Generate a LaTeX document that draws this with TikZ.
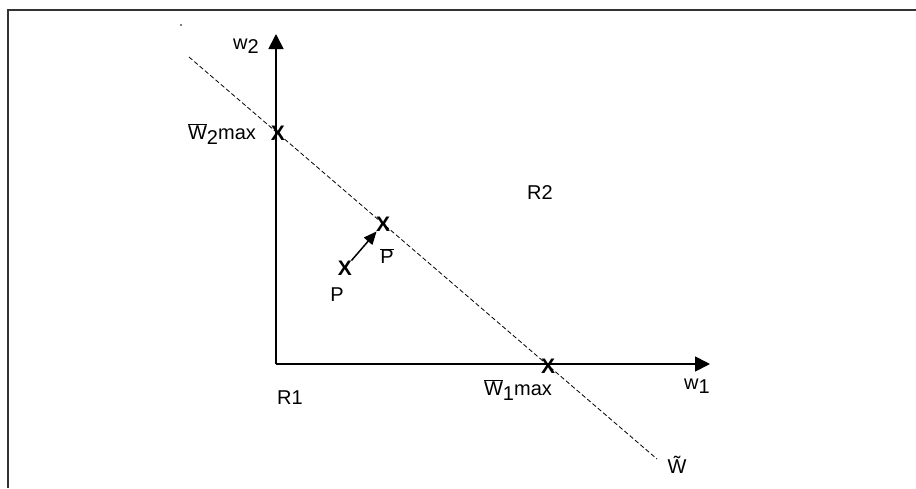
\documentclass[tikz,border=0pt]{standalone}
\usepackage{fontspec}
\setmainfont{Liberation Sans}
\usetikzlibrary{arrows.meta}
\newcommand{\dn}[1]{\raisebox{-4.5pt}{#1}}
\newcommand{\barW}{$\overline{\mbox{W}}$}
\begin{document}
\begin{tikzpicture}[x=1pt, y=-1pt, font=\fontsize{20}{24}\selectfont]
  \useasboundingbox (0,0) rectangle (916,488);
  % Styles
  \tikzstyle{axis}=[-{Triangle[length=15pt, width=15pt]}, line width=1.7pt]
  \tikzstyle{move}=[-{Triangle[length=13pt, width=11pt]}, line width=1.5pt]
  \tikzstyle{xmark}=[inner sep=0pt, font=\fontsize{21}{24}\selectfont\bfseries]
  \tikzstyle{txt}=[inner sep=1pt]
  \tikzstyle{budget}=[line width=0.8pt, dash pattern=on 4.5pt off 2.5pt]

  % Frame
  \draw[line width=1.5pt, black!80] (8,488) -- (8,10) -- (916,10);
  \fill (181,25) circle (0.8pt);

  % Axes
  \coordinate (o) at (276,364);
  \coordinate (ytip) at (276,34);
  \coordinate (xtip) at (710,364);
  \draw[axis] (o) -- (ytip);
  \draw[axis] (o) -- (xtip);
  \node[txt] (w2) at (246,46) {w\dn{2}};
  \node[txt] (w1) at (697,386) {w\dn{1}};

  % Budget line
  \coordinate (ws) at (189,57);
  \coordinate (we) at (657,459);
  \draw[budget] (ws) -- (we);
  \node[txt] (wt) at (677,465) {\~{W}};

  % Points
  \node[xmark] (w2max) at (278,133) {X};
  \node[xmark] (w1max) at (548,366) {X};
  \node[xmark] (pbar) at (383,224) {X};
  \node[xmark] (p) at (345,268) {X};
  \draw[move] (p) -- (pbar);

  % Labels
  \node[txt] (l2) at (222,134) {\barW\dn{2}max};
  \node[txt] (l1) at (518,390) {\barW\dn{1}max};
  \node[txt] (lpbar) at (387,256) {$\overline{\mbox{P}}$};
  \node[txt] (lp) at (337,295) {P};
  \node[txt] (r1) at (290,398) {R1};
  \node[txt] (r2) at (540,193) {R2};
\end{tikzpicture}
\end{document}
